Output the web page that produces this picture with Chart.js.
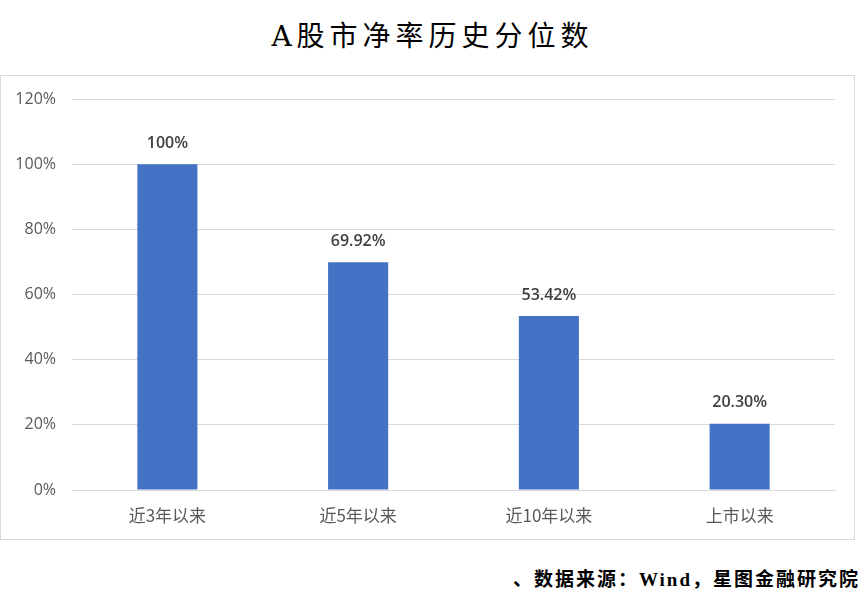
<!DOCTYPE html>
<html>
<head>
<meta charset="utf-8">
<script src="https://cdn.jsdelivr.net/npm/chart.js@4"></script>
<style>
  body { margin: 0; background: #fff; width: 865px; height: 601px; position: relative; overflow: hidden; }
  #title { position: absolute; top: 14px; left: 0; width: 865px; text-align: center;
           font-family: "DejaVu Serif", "Noto Sans CJK SC", serif; font-size: 28px; color: #000; letter-spacing: 5px; }
  #box { position: absolute; left: 0; top: 75px; width: 853px; height: 463px; border: 1px solid #d9d9d9; }
  #chart { display: block; }
  #footer { position: absolute; right: 5px; top: 564px; font-family: "Liberation Serif", "Noto Sans CJK SC", serif;
            font-weight: bold; font-size: 19px; color: #000; letter-spacing: 2px; }
</style>
</head>
<body>
<div id="title">A股市净率历史分位数</div>
<div id="box"><canvas id="chart" width="853" height="463"></canvas></div>
<div id="footer">、数据来源：Wind，星图金融研究院</div>
<script>
// 数据
const categories = ['近3年以来', '近5年以来', '近10年以来', '上市以来'];
const percentiles = [100, 69.92, 53.42, 20.30];
const valueLabels = ['100%', '69.92%', '53.42%', '20.30%'];
const yTicks = [0, 20, 40, 60, 80, 100, 120];

// 在柱子上方写数值
const barLabels = {
    id: 'barLabels',
    afterDatasetsDraw(chart) {
        const ctx = chart.ctx;
        const meta = chart.getDatasetMeta(0);
        ctx.save();
        ctx.font = '600 16px "Open Sans", sans-serif';
        ctx.fillStyle = '#404040';
        ctx.textAlign = 'center';
        ctx.textBaseline = 'middle';
        meta.data.forEach((bar, i) => {
            ctx.fillText(valueLabels[i], bar.x, bar.y - 21);
        });
        ctx.restore();
    }
};

const ctx = document.getElementById('chart').getContext('2d');
new Chart(ctx, {
    type: 'bar',
    data: {
        labels: categories,
        datasets: [{
            data: percentiles,
            backgroundColor: '#4472c4',
            categoryPercentage: 0.315,
            barPercentage: 1
        }]
    },
    options: {
        responsive: false,
        animation: false,
        layout: { padding: { top: 23, right: 19, bottom: 0, left: 0 } },
        plugins: { legend: { display: false }, tooltip: { enabled: false } },
        scales: {
            x: {
                grid: { display: false },
                border: { color: '#d9d9d9' },
                ticks: { color: '#595959', font: { size: 17, family: '"Noto Sans CJK SC", sans-serif' }, padding: 7 },
                afterFit: s => { s.height = 49; }
            },
            y: {
                min: 0,
                max: 120,
                afterBuildTicks: s => { s.ticks = yTicks.map(v => ({ value: v })); },
                grid: { color: '#d9d9d9', drawTicks: false },
                border: { display: false },
                ticks: {
                    color: '#595959',
                    font: { size: 16, family: '"Open Sans", sans-serif' },
                    padding: 16,
                    callback: v => v + '%'
                },
                afterFit: s => { s.width = 71; s.paddingTop = 0; s.paddingBottom = 0; }
            }
        }
    },
    plugins: [barLabels]
});
</script>
</body>
</html>
